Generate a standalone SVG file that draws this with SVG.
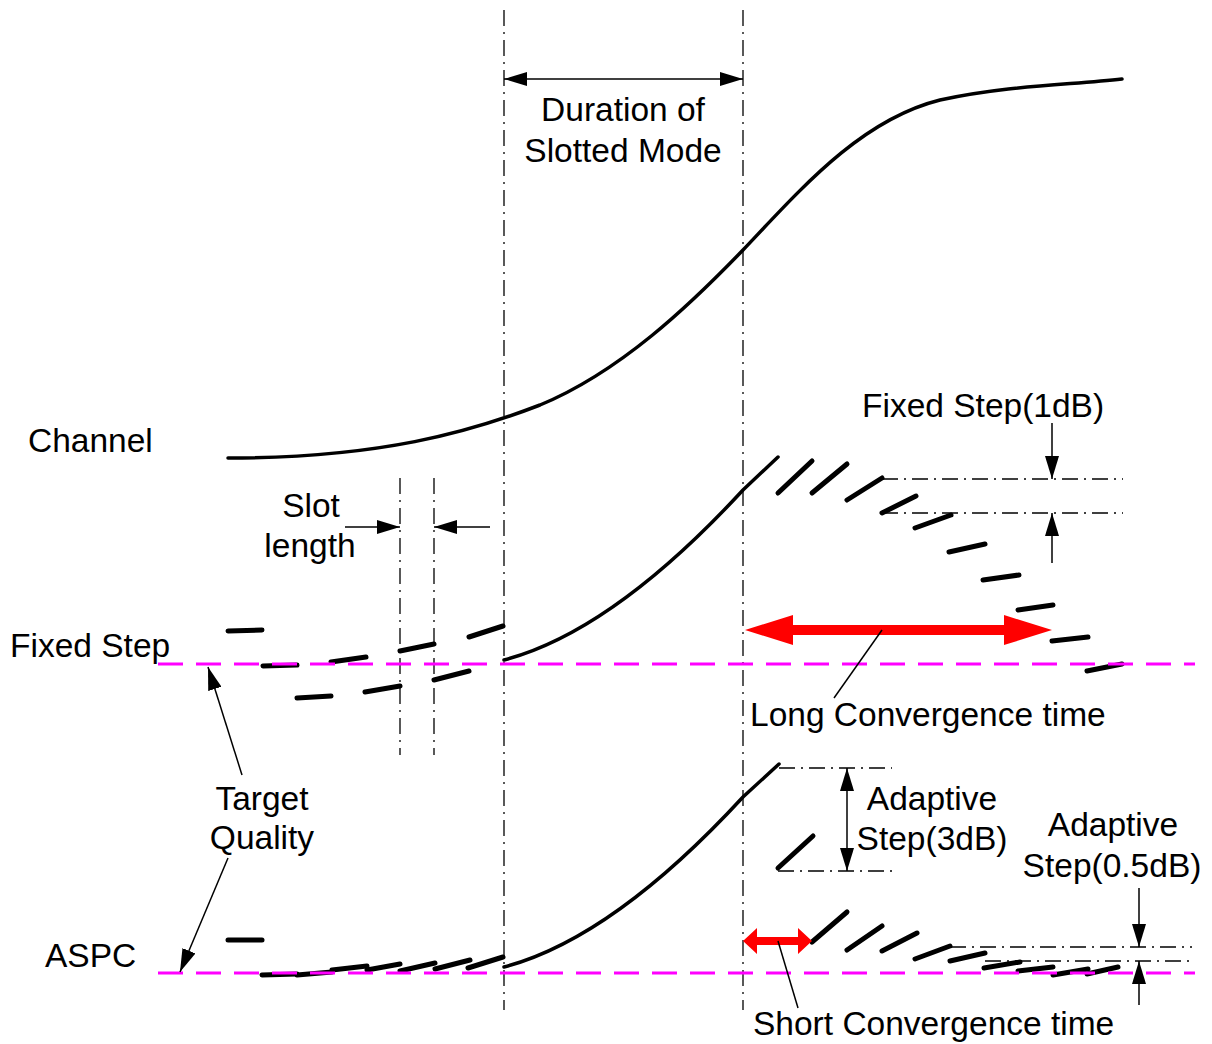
<svg xmlns="http://www.w3.org/2000/svg" width="1212" height="1044" viewBox="0 0 1212 1044">
<style>
text{font-family:"Liberation Sans",Arial,sans-serif;font-size:33.5px;fill:#000}
.dd{fill:none;stroke:#000;stroke-width:1.3;stroke-dasharray:16 6 2 6}
.thin{fill:none;stroke:#000;stroke-width:1.5}
.seg{fill:none;stroke:#000;stroke-width:5;stroke-linecap:round}
.crv{fill:none;stroke:#000;stroke-width:3.5;stroke-linecap:round}
.tq{fill:none;stroke:#FF00FF;stroke-width:3;stroke-dasharray:25 13}
.red{fill:#FF0000;stroke:none}
</style>
<defs>
<marker id="ah" viewBox="0 0 23 14" refX="23" refY="7" markerWidth="23" markerHeight="14" orient="auto-start-reverse" markerUnits="userSpaceOnUse">
<path d="M0,0 L23,7 L0,14 z" fill="#000"/>
</marker>
</defs>

<g id="guides">
<line class="dd" x1="504" y1="10" x2="504" y2="1010"/>
<line class="dd" x1="743" y1="10" x2="743" y2="1010"/>
<line class="dd" x1="400" y1="478" x2="400" y2="755"/>
<line class="dd" x1="434" y1="478" x2="434" y2="755"/>
<line class="dd" x1="882" y1="479" x2="1123" y2="479"/>
<line class="dd" x1="882" y1="513" x2="1123" y2="513"/>
<line class="dd" x1="779" y1="768" x2="892" y2="768"/>
<line class="dd" x1="778" y1="871" x2="892" y2="871"/>
<line class="dd" x1="950" y1="947" x2="1192" y2="947"/>
<line class="dd" x1="985" y1="961" x2="1192" y2="961"/>
</g>

<g id="channel">
<path class="crv" stroke-width="4" d="M228,458 C380,458 470,432 540,405 C620,372 690,305 743,250 C800,190 860,120 940,100 C1010,85 1070,85 1122,79"/>
<text x="28" y="452">Channel</text>
</g>

<g id="fixed-step">
<text x="10" y="657">Fixed Step</text>
<line class="seg" x1="228" y1="631" x2="262" y2="630"/>
<line class="seg" x1="263" y1="666" x2="297" y2="665"/>
<line class="seg" x1="297" y1="698" x2="331" y2="696"/>
<line class="seg" x1="331" y1="662" x2="366" y2="657"/>
<line class="seg" x1="365" y1="692" x2="400" y2="686"/>
<line class="seg" x1="400" y1="651" x2="434" y2="644"/>
<line class="seg" x1="434" y1="680" x2="469" y2="671"/>
<line class="seg" x1="469" y1="637" x2="503" y2="626"/>
<path class="crv" d="M504,660 C580,640 660,580 743,490 L778,457"/>
<line class="seg" x1="778" y1="493" x2="812" y2="461"/>
<line class="seg" x1="812" y1="493" x2="847" y2="464"/>
<line class="seg" x1="847" y1="500" x2="882" y2="478"/>
<line class="seg" x1="882" y1="513" x2="916" y2="496"/>
<line class="seg" x1="915" y1="528" x2="951" y2="515"/>
<line class="seg" x1="949" y1="552" x2="985" y2="544"/>
<line class="seg" x1="983" y1="580" x2="1019" y2="575"/>
<line class="seg" x1="1018" y1="610" x2="1053" y2="605"/>
<line class="seg" x1="1052" y1="641" x2="1088" y2="637"/>
<line class="seg" x1="1087" y1="671" x2="1122" y2="664"/>
</g>

<g id="aspc">
<text x="45" y="967">ASPC</text>
<line class="seg" x1="228" y1="940" x2="262" y2="940"/>
<line class="seg" x1="262" y1="975" x2="297" y2="974"/>
<line class="seg" x1="297" y1="975" x2="332" y2="972"/>
<line class="seg" x1="332" y1="970" x2="367" y2="966"/>
<line class="seg" x1="367" y1="970" x2="400" y2="964"/>
<line class="seg" x1="400" y1="971" x2="435" y2="963"/>
<line class="seg" x1="435" y1="969" x2="470" y2="960"/>
<line class="seg" x1="468" y1="968" x2="503" y2="957"/>
<path class="crv" d="M504,967 C580,947 660,887 743,797 L779,764"/>
<line class="seg" x1="778" y1="868" x2="813" y2="836"/>
<line class="seg" x1="812" y1="942" x2="847" y2="912"/>
<line class="seg" x1="847" y1="950" x2="882" y2="926"/>
<line class="seg" x1="882" y1="951" x2="917" y2="933"/>
<line class="seg" x1="915" y1="959" x2="950" y2="946"/>
<line class="seg" x1="950" y1="961" x2="985" y2="953"/>
<line class="seg" x1="984" y1="968" x2="1020" y2="962"/>
<line class="seg" x1="1018" y1="971" x2="1053" y2="967"/>
<line class="seg" x1="1053" y1="975" x2="1088" y2="969"/>
<line class="seg" x1="1087" y1="974" x2="1118" y2="967"/>
</g>

<g id="target-quality">
<line class="tq" x1="158" y1="664" x2="1195" y2="664"/>
<line class="tq" x1="158" y1="973" x2="1195" y2="973"/>
<text x="262" y="810" text-anchor="middle">Target</text>
<text x="262" y="849" text-anchor="middle">Quality</text>
</g>

<g id="labels">
<text x="623" y="121" text-anchor="middle">Duration of</text>
<text x="623" y="162" text-anchor="middle">Slotted Mode</text>
<text x="311" y="517" text-anchor="middle">Slot</text>
<text x="310" y="557" text-anchor="middle">length</text>
<text x="862" y="417">Fixed Step(1dB)</text>
<text x="750" y="726">Long Convergence time</text>
<text x="932" y="810" text-anchor="middle">Adaptive</text>
<text x="932" y="850" text-anchor="middle">Step(3dB)</text>
<text x="1113" y="836" text-anchor="middle">Adaptive</text>
<text x="1112" y="877" text-anchor="middle">Step(0.5dB)</text>
<text x="753" y="1035">Short Convergence time</text>
</g>

<g id="connectors">
<line class="thin" x1="504" y1="79" x2="743" y2="79" marker-start="url(#ah)" marker-end="url(#ah)"/>
<line class="thin" x1="345" y1="527" x2="400" y2="527" marker-end="url(#ah)"/>
<line class="thin" x1="490" y1="527" x2="434" y2="527" marker-end="url(#ah)"/>
<line class="thin" x1="1052" y1="423" x2="1052" y2="479" marker-end="url(#ah)"/>
<line class="thin" x1="1052" y1="563" x2="1052" y2="513" marker-end="url(#ah)"/>
<line class="thin" x1="847" y1="768" x2="847" y2="871" marker-start="url(#ah)" marker-end="url(#ah)"/>
<line class="thin" x1="1139" y1="888" x2="1139" y2="947" marker-end="url(#ah)"/>
<line class="thin" x1="1139" y1="1005" x2="1139" y2="961" marker-end="url(#ah)"/>
<line class="thin" x1="242" y1="775" x2="208" y2="667" marker-end="url(#ah)"/>
<line class="thin" x1="228" y1="858" x2="180" y2="972" marker-end="url(#ah)"/>
<polygon class="red" points="745,630 793,615 793,625 1004,625 1004,615 1052,630 1004,645 1004,635 793,635 793,645"/>
<polygon class="red" points="743,941 757,928 757,937 798,937 798,928 812,941 798,954 798,945 757,945 757,954"/>
<line class="thin" x1="882" y1="630" x2="834" y2="698"/>
<line class="thin" x1="778" y1="941" x2="798" y2="1008"/>
</g>
</svg>
